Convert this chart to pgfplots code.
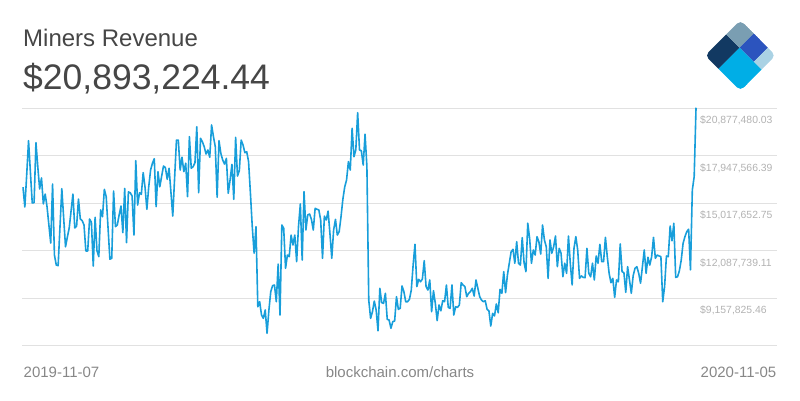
\documentclass[border=0pt]{standalone}
\usepackage{pgfplots}
\usepackage{pgfplotstable}
\pgfplotsset{compat=1.18}
\usepackage{fontspec}
\setmainfont{Liberation Sans}
\definecolor{linecol}{RGB}{24,158,218}
\definecolor{titlecol}{RGB}{70,70,70}
\definecolor{tickcol}{RGB}{178,178,178}
\definecolor{footcol}{RGB}{135,135,135}
\definecolor{gridcol}{RGB}{225,225,225}
\definecolor{lnavy}{RGB}{18,57,98}
\definecolor{lgray}{RGB}{122,158,178}
\definecolor{lblue}{RGB}{44,84,190}
\definecolor{llight}{RGB}{170,210,228}
\definecolor{lcyan}{RGB}{0,174,230}

\pgfplotstableread{
day value
0 15.99
1 14.77
2 16.75
3 18.86
4 16.93
5 15.02
6 15.04
7 18.74
8 17.26
9 15.88
10 16.56
11 14.96
12 15.57
13 14.79
14 13.66
15 12.55
16 16.19
17 11.81
18 11.19
19 11.15
20 13.54
21 15.90
22 14.09
23 12.32
24 12.92
25 13.48
26 14.52
27 15.57
28 13.48
29 13.60
30 15.26
31 14.03
32 13.93
33 13.66
34 12.06
35 12.06
36 14.03
37 13.83
38 11.13
39 14.14
40 12.08
41 11.71
42 14.59
43 14.17
44 15.86
45 15.41
46 13.48
47 11.55
48 11.61
49 15.76
50 13.56
51 13.66
52 14.28
53 14.83
54 13.19
55 15.92
56 12.57
57 15.70
58 15.65
59 15.45
60 13.04
61 17.63
62 14.89
63 15.65
64 15.55
65 16.89
66 15.99
67 14.63
68 16.02
69 17.05
70 17.47
71 17.75
72 14.79
73 16.95
74 16.02
75 16.68
76 17.30
77 17.20
78 16.48
79 17.16
80 15.70
81 14.21
82 16.56
83 18.90
84 18.90
85 17.05
86 17.84
87 16.95
88 17.47
89 15.41
90 19.11
91 17.16
92 17.26
93 17.50
94 19.72
95 15.65
96 19.01
97 18.80
98 18.49
99 18.04
100 18.29
101 17.84
102 19.83
103 19.11
104 18.49
105 15.37
106 18.86
107 18.08
108 17.67
109 17.42
110 17.77
111 15.62
112 16.44
113 17.40
114 15.25
115 19.07
116 16.68
117 17.01
118 18.90
119 18.60
120 18.12
121 18.18
122 17.57
123 15.62
124 13.56
125 11.92
126 13.56
127 8.62
128 8.93
129 8.11
130 7.90
131 8.42
132 6.98
133 8.42
134 9.55
135 9.92
136 9.96
137 8.93
138 11.25
139 8.11
140 13.66
141 13.46
142 10.99
143 11.81
144 11.71
145 13.04
146 12.43
147 13.04
148 11.40
149 13.56
150 14.96
151 11.50
152 15.72
153 13.35
154 14.28
155 14.34
156 14.01
157 13.35
158 14.69
159 14.63
160 14.59
161 13.97
162 11.61
163 14.21
164 13.97
165 14.52
166 13.15
167 11.61
168 13.35
169 14.01
170 13.04
171 13.25
172 14.17
173 15.25
174 16.01
175 16.44
176 17.57
177 17.05
178 19.63
179 17.87
180 18.29
181 20.59
182 18.29
183 18.24
184 17.36
185 19.26
186 17.26
187 9.03
188 7.90
189 8.31
190 8.97
191 8.42
192 7.14
193 9.76
194 8.87
195 8.83
196 9.45
197 7.84
198 7.80
199 7.29
200 7.70
201 7.74
202 9.24
203 8.46
204 8.52
205 9.90
206 9.55
207 8.93
208 8.93
209 9.08
210 9.65
211 11.19
212 12.47
213 9.86
214 10.31
215 10.16
216 10.33
217 11.46
218 9.86
219 9.65
220 10.27
221 8.31
222 9.61
223 8.83
224 7.76
225 8.73
226 8.37
227 8.99
228 8.93
229 9.96
230 8.58
231 8.52
232 9.96
233 8.11
234 8.62
235 8.58
236 8.73
237 10.10
238 9.96
239 9.86
240 9.24
241 9.45
242 9.55
243 9.76
244 9.28
245 10.27
246 9.76
247 9.24
248 9.03
249 8.93
250 8.99
251 8.46
252 8.36
253 7.43
254 8.21
255 8.05
256 8.79
257 8.25
258 9.69
259 9.45
260 10.78
261 9.49
262 10.58
263 11.30
264 12.01
265 12.16
266 11.30
267 12.63
268 11.30
269 11.19
270 12.88
271 11.34
272 10.78
273 13.77
274 12.84
275 11.30
276 12.12
277 11.81
278 12.94
279 12.63
280 11.87
281 13.66
282 12.74
283 12.32
284 10.37
285 12.74
286 11.92
287 12.32
288 12.98
289 11.09
290 12.22
291 11.92
292 10.47
293 11.30
294 10.68
295 12.98
296 11.30
297 9.96
298 12.22
299 12.94
300 12.12
301 10.37
302 10.52
303 10.43
304 10.41
305 12.22
306 10.68
307 10.47
308 11.30
309 10.27
310 11.75
311 11.30
312 12.47
313 11.40
314 11.40
315 12.90
316 11.71
317 10.68
318 10.10
319 10.37
320 9.20
321 10.27
322 10.16
323 12.49
324 10.78
325 10.72
326 9.51
327 11.09
328 10.27
329 9.45
330 10.53
331 10.99
332 11.09
333 10.68
334 10.07
335 11.09
336 12.12
337 10.68
338 11.67
339 11.19
340 11.71
341 12.90
342 11.61
343 11.81
344 11.75
345 11.71
346 8.93
347 9.86
348 11.75
349 11.71
350 13.60
351 12.69
352 13.77
353 10.43
354 10.47
355 10.84
356 11.50
357 12.53
358 12.94
359 13.25
360 13.40
361 10.89
362 15.82
363 16.64
364 20.893224
}\revtable

\begin{document}
\begin{tikzpicture}
\path[use as bounding box] (0pt,0pt) rectangle (800pt,-400pt);
\node[anchor=base west, inner sep=0pt, text=titlecol, font=\fontsize{24}{28}\selectfont] at (23pt,-46.7pt) {Miners Revenue};
\node[anchor=base west, inner sep=0pt, text=titlecol, font=\fontsize{35.5}{40}\selectfont] at (23pt,-89.3pt) {\$20,893,224.44};
% logo
\begin{scope}
\clip[rounded corners=5pt] (705pt,-55.5pt) -- (740.4pt,-20.1pt) -- (775.7pt,-55.5pt) -- (740.4pt,-90.9pt) -- cycle;
\fill[lnavy] (705pt,-55.5pt) -- (726.2pt,-34.3pt) -- (739.6pt,-47.7pt) -- (718.4pt,-68.9pt) -- cycle;
\fill[lgray] (726.2pt,-34.3pt) -- (740.4pt,-20.1pt) -- (753.8pt,-33.5pt) -- (739.6pt,-47.7pt) -- cycle;
\fill[lblue] (739.6pt,-47.7pt) -- (753.8pt,-33.5pt) -- (767.9pt,-47.6pt) -- (753.7pt,-61.8pt) -- cycle;
\fill[llight] (753.7pt,-61.8pt) -- (767.9pt,-47.6pt) -- (775.7pt,-55.5pt) -- (761.5pt,-69.6pt) -- cycle;
\fill[lcyan] (718.4pt,-68.9pt) -- (739.6pt,-47.7pt) -- (761.5pt,-69.6pt) -- (740.4pt,-90.9pt) -- cycle;
\end{scope}
\begin{axis}[
  scale only axis,
  width=755pt, height=237.5pt,
  at={(22pt,-345.5pt)}, anchor=south west,
  xmin=-0.54, xmax=407.8,
  ymin=6.22791182, ymax=20.87748003,
  axis line style={draw=none},
  major tick length=0pt,
  xtick=\empty,
  ytick={6.22791182,9.15782546,12.08773911,15.01765275,17.94756639,20.87748003},
  yticklabels={{},{\$9,157,825.46},{\$12,087,739.11},{\$15,017,652.75},{\$17,947,566.39},{\$20,877,480.03}},
  yticklabel pos=right,
  yticklabel style={anchor=base west, inner sep=0pt, xshift=-77pt, yshift=-15.5pt, text=tickcol, font=\fontsize{10.4}{12}\selectfont},
  ymajorgrids,
  grid style={gridcol, line width=1pt},
  clip=false,
]
\addplot[linecol, line width=1.6pt, line join=round, mark=none] table[x=day, y=value] {\revtable};
\end{axis}
\node[anchor=base west, inner sep=0pt, text=footcol, font=\fontsize{15}{18}\selectfont] at (23.5pt,-377.5pt) {2019-11-07};
\node[anchor=base, inner sep=0pt, text=footcol, font=\fontsize{15}{18}\selectfont] at (400pt,-377.5pt) {blockchain.com/charts};
\node[anchor=base east, inner sep=0pt, text=footcol, font=\fontsize{15}{18}\selectfont] at (776.5pt,-377.5pt) {2020-11-05};
\end{tikzpicture}
\end{document}
